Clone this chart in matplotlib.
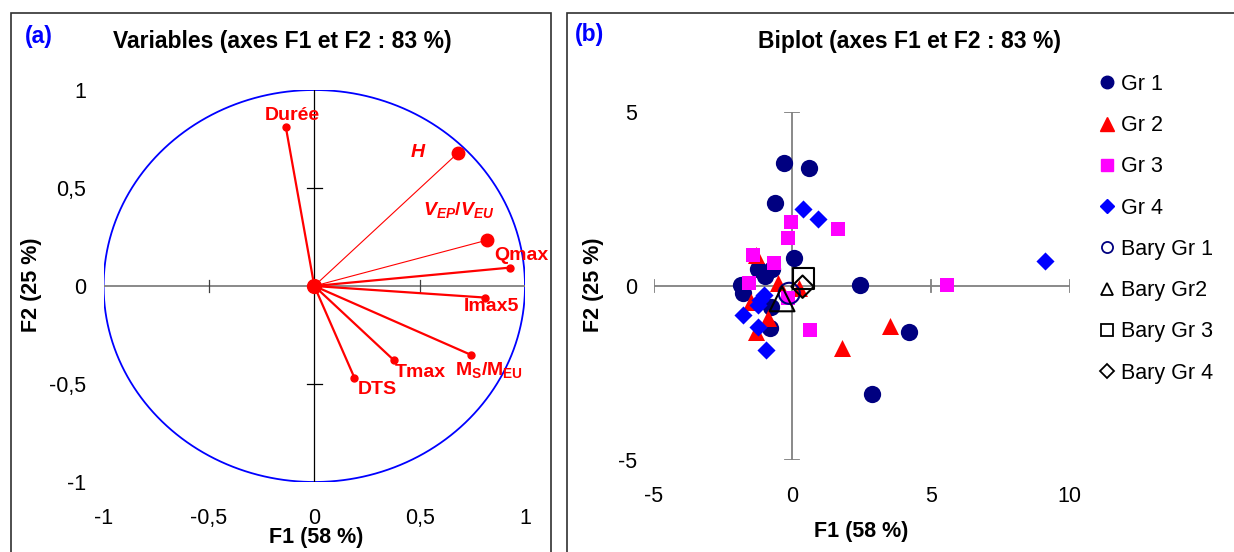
import numpy as np
import matplotlib
matplotlib.use('Agg')
import matplotlib.pyplot as plt
from matplotlib.patches import Rectangle
from matplotlib.lines import Line2D

plt.rcParams['font.family'] = 'Liberation Sans'
plt.rcParams['mathtext.fontset'] = 'custom'
plt.rcParams['mathtext.rm'] = 'Liberation Sans:bold'
plt.rcParams['mathtext.it'] = 'Liberation Sans:bold:italic'
plt.rcParams['mathtext.bf'] = 'Liberation Sans:bold'

# --- (a) cercle des correlations
var_labels = ['Durée', r'$H$', r'$V_{EP}/V_{EU}$', 'Qmax', 'Imax5',
              r'$\mathrm{M_S/M_{EU}}$', 'Tmax', 'DTS']
var_f1 = [-0.135, 0.68, 0.82, 0.93, 0.81, 0.745, 0.376, 0.19]
var_f2 = [0.81, 0.677, 0.234, 0.094, -0.059, -0.352, -0.377, -0.467]
var_thin = [False, True, True, False, False, False, False, False]
# where the labels sit (data coords)
lab_pos = [(-0.105, 0.87), (0.495, 0.683), (0.685, 0.386), (0.985, 0.155),
           (0.84, -0.104), (0.83, -0.43), (0.505, -0.44), (0.297, -0.526)]

# --- (b) biplot, observations par groupe
gr1_f1 = [-0.29, 0.59, -0.61, 0.07, 2.45, 4.22, 2.89, -1.25, -1.0, -0.75, -1.85, -1.79, -0.77, -0.8]
gr1_f2 = [3.54, 3.38, 2.39, 0.81, 0.03, -1.32, -3.10, 0.5, 0.3, 0.5, 0.03, -0.21, -0.59, -1.22]
gr2_f1 = [-1.31, -0.53, -1.49, -0.89, -1.31, 0.25, 3.54, 1.80]
gr2_f2 = [0.89, 0.08, -0.45, -0.93, -1.31, -0.07, -1.15, -1.78]
gr3_f1 = [-0.17, -0.03, 1.66, -1.43, -0.65, -1.55, -0.17, 0.65, 5.59]
gr3_f2 = [1.38, 1.85, 1.64, 0.89, 0.65, 0.08, -0.35, -1.26, 0.03]
gr4_f1 = [9.13, 0.37, 0.94, -1.01, -1.25, -1.79, -1.25, -0.95, -1.15]
gr4_f2 = [0.72, 2.20, 1.92, -0.26, -0.55, -0.83, -1.17, -1.84, -0.4]
bary_f1 = [-0.11, -0.37, 0.40, 0.37]
bary_f2 = [-0.21, -0.37, 0.22, -0.02]

navy = '#000080'
red = '#FF0000'
mag = '#FF00FF'
blue = '#0000FF'

W, H = 1234, 552
fig = plt.figure(figsize=(W / 100, H / 100), dpi=100)

def px(x0, y0, x1, y1):
    return [x0 / W, 1 - y1 / H, (x1 - x0) / W, (y1 - y0) / H]

def clean(ax):
    for s in ax.spines.values():
        s.set_visible(False)
    ax.tick_params(length=0, labelsize=15.5)

# frames
fig.add_artist(Rectangle((11 / W, -0.01), (551 - 11) / W, 1.01 - 13 / H, transform=fig.transFigure,
                         fill=False, ec='#303030', lw=1.2))
fig.add_artist(Rectangle((567 / W, -0.01), 0.6, 1.01 - 13 / H, transform=fig.transFigure,
                         fill=False, ec='#303030', lw=1.2))

# ---------------- panel (a)
ax1 = fig.add_axes(px(103.6, 90, 525, 482))
ax1.set_xlim(-1, 1)
ax1.set_ylim(-1, 1)
clean(ax1)
t = np.linspace(0, 2 * np.pi, 400)
ax1.plot(np.cos(t), np.sin(t), color=blue, lw=1.3)
ax1.plot([-1, 1], [0, 0], color='#808080', lw=1.3)
ax1.plot([0, 0], [-1, 1], color='black', lw=0.9)
for v in [-0.5, 0.5]:
    ax1.plot([v, v], [-0.03, 0.03], color='#404040', lw=0.9)
    ax1.plot([-0.035, 0.035], [v, v], color='black', lw=0.9)
for x, y, thin in zip(var_f1, var_f2, var_thin):
    ax1.plot([0, x], [0, y], color=red, lw=0.8 if thin else 1.6)
    ax1.plot(x, y, 'o', color=red, ms=9 if thin else 5, clip_on=False)
ax1.plot(0, 0, 'o', color=red, ms=10)
for lab, (lx, ly) in zip(var_labels, lab_pos):
    ax1.text(lx, ly, lab, color=red, fontsize=14, fontweight='bold',
             ha='center', va='center')
ax1.set_xticks([-1, -0.5, 0, 0.5, 1], ['-1', '-0,5', '0', '0,5', '1'])
ax1.set_yticks([-1, -0.5, 0, 0.5, 1], ['-1', '-0,5', '0', '0,5', '1'])
ax1.tick_params(axis='x', pad=18.5)
ax1.tick_params(axis='y', pad=12.5)

fig.text(39 / W, 1 - 37 / H, '(a)', color=blue, fontsize=16.5, fontweight='bold', ha='center', va='center')
fig.text(282 / W, 1 - 41.5 / H, 'Variables (axes F1 et F2 : 83 %)', fontsize=16.5, fontweight='bold',
         ha='center', va='center')
fig.text(316 / W, 1 - 537 / H, 'F1 (58 %)', fontsize=15.5, fontweight='bold', ha='center', va='center')
fig.text(32 / W, 1 - 285 / H, 'F2 (25 %)', fontsize=15.5, fontweight='bold', ha='center', va='center',
         rotation=90)

# ---------------- panel (b)
ax2 = fig.add_axes(px(653.7, 112, 1069.5, 460))
ax2.set_xlim(-5, 10)
ax2.set_ylim(-5, 5)
clean(ax2)
ax2.plot([-5, 10], [0, 0], color='#808080', lw=1.3)
ax2.plot([0, 0], [-5, 5], color='#808080', lw=1.3)
for v in [-5, 5, 10]:
    ax2.plot([v, v], [-0.17, 0.17], color='#808080', lw=1.3)
for v in [-5, 5]:
    ax2.plot([-0.25, 0.25], [v, v], color='#808080', lw=1.3)

ax2.scatter(gr1_f1, gr1_f2, s=155, marker='o', color=navy, lw=0, clip_on=False, zorder=3)
ax2.scatter(gr2_f1, gr2_f2, s=150, marker='^', color=red, lw=0, clip_on=False, zorder=3)
ax2.scatter(gr3_f1, gr3_f2, s=95, marker='s', color=mag, lw=0, clip_on=False, zorder=3)
ax2.scatter(gr4_f1, gr4_f2, s=85, marker='D', color=blue, lw=0, clip_on=False, zorder=3)
bary_m = ['o', '^', 's', 'D']
bary_s = [230, 320, 240, 130]
bary_c = [navy, 'black', 'black', 'black']
for x, y, m, s, c in zip(bary_f1, bary_f2, bary_m, bary_s, bary_c):
    ax2.scatter(x, y, s=s, marker=m, facecolor='none', edgecolor=c, lw=1.5, zorder=4)

ax2.set_xticks([-5, 0, 5, 10], ['-5', '0', '5', '10'])
ax2.set_yticks([-5, 0, 5], ['-5', '0', '5'])
ax2.tick_params(axis='x', pad=18.5)
ax2.tick_params(axis='y', pad=12)

leg_labels = ['Gr 1', 'Gr 2', 'Gr 3', 'Gr 4', 'Bary Gr 1', 'Bary Gr2', 'Bary Gr 3', 'Bary Gr 4']
handles = [
    Line2D([], [], ls='none', marker='o', ms=9, mfc=navy, mec=navy),
    Line2D([], [], ls='none', marker='^', ms=9.5, mfc=red, mec=red),
    Line2D([], [], ls='none', marker='s', ms=8, mfc=mag, mec=mag),
    Line2D([], [], ls='none', marker='D', ms=7, mfc=blue, mec=blue),
    Line2D([], [], ls='none', marker='o', ms=8, mfc='none', mec=navy, mew=1.3),
    Line2D([], [], ls='none', marker='^', ms=9, mfc='none', mec='black', mew=1.3),
    Line2D([], [], ls='none', marker='s', ms=8, mfc='none', mec='black', mew=1.3),
    Line2D([], [], ls='none', marker='D', ms=7, mfc='none', mec='black', mew=1.3),
]
fig.legend(handles, leg_labels, loc='upper left', bbox_to_anchor=(1098 / W, 1 - 74 / H),
           frameon=False, fontsize=15.5, handlelength=0.8, handletextpad=0.25,
           borderpad=0, borderaxespad=0, labelspacing=0.94)

fig.text(589 / W, 1 - 35 / H, '(b)', color=blue, fontsize=16.5, fontweight='bold', ha='center', va='center')
fig.text(909 / W, 1 - 41.5 / H, 'Biplot (axes F1 et F2 : 83 %)', fontsize=16.5, fontweight='bold',
         ha='center', va='center')
fig.text(861 / W, 1 - 532 / H, 'F1 (58 %)', fontsize=15.5, fontweight='bold', ha='center', va='center')
fig.text(593.5 / W, 1 - 285 / H, 'F2 (25 %)', fontsize=15.5, fontweight='bold', ha='center', va='center',
         rotation=90)

fig.savefig('out.png', dpi=100)
